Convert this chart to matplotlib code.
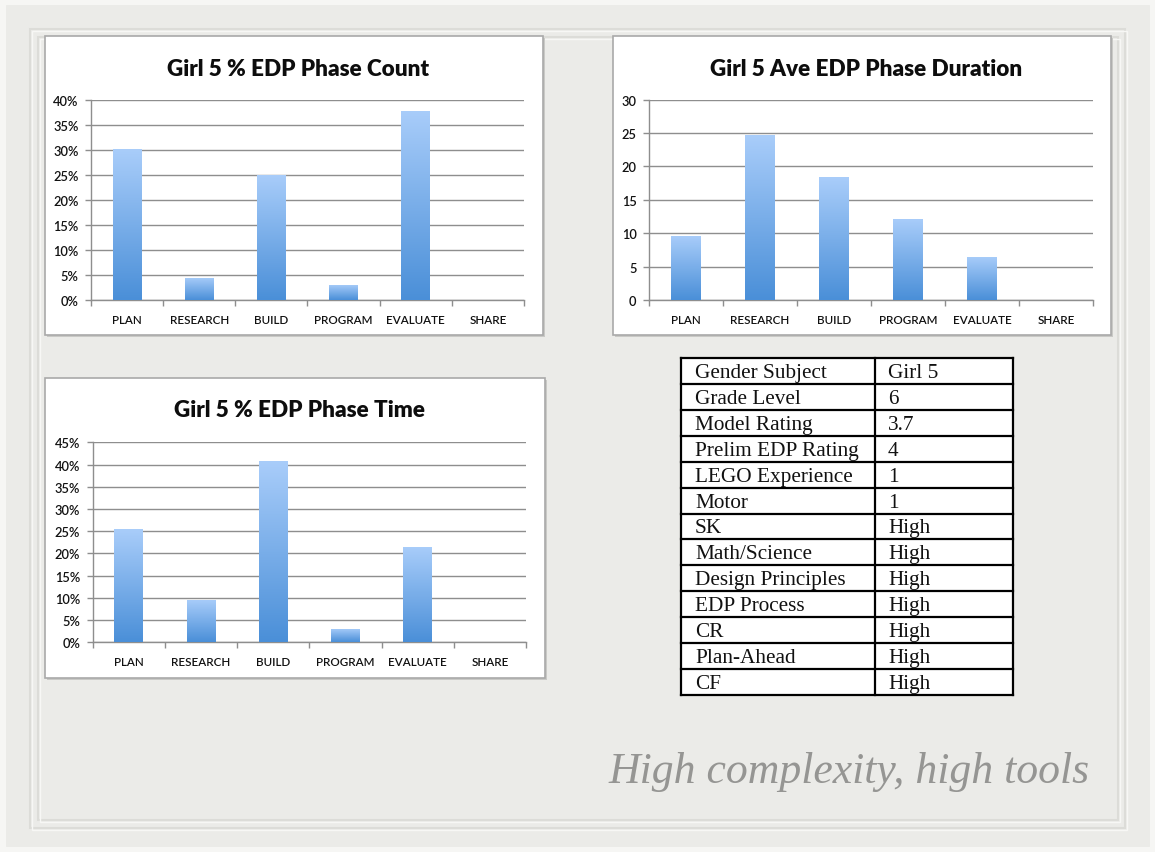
import numpy as np
import matplotlib
matplotlib.use("Agg")
import matplotlib.pyplot as plt
from matplotlib.patches import Rectangle
from matplotlib.colors import LinearSegmentedColormap
from matplotlib.ticker import FuncFormatter, FixedLocator

# ---- data ----
phases = ["PLAN", "RESEARCH", "BUILD", "PROGRAM", "EVALUATE", "SHARE"]
pct_phase_count = [30.1, 4.4, 25.0, 3.0, 37.8, 0.0]
ave_phase_duration = [9.6, 24.7, 18.4, 12.2, 6.5, 0.0]
pct_phase_time = [25.4, 9.5, 40.7, 3.1, 21.4, 0.0]

table_labels = ["Gender Subject", "Grade Level", "Model Rating", "Prelim EDP Rating",
                "LEGO Experience", "Motor", "SK", "Math/Science", "Design Principles",
                "EDP Process", "CR", "Plan-Ahead", "CF"]
table_values = ["Girl 5", "6", "3.7", "4", "1", "1", "High", "High", "High",
                "High", "High", "High", "High"]

caption = "High complexity, high tools"

# ---- figure ----
W, H = 1155, 853
fig = plt.figure(figsize=(W / 100, H / 100), dpi=100)
fig.patch.set_facecolor("#ebebe8")


def fx(x):
    return x / W


def fy(y):
    return 1 - y / H


def rect_px(x0, y0, x1, y1, **kw):
    r = Rectangle((fx(x0), fy(y1)), fx(x1) - fx(x0), fy(y0) - fy(y1),
                  transform=fig.transFigure, **kw)
    fig.add_artist(r)
    return r


# light page edge and embossed double frame
rect_px(0, 0, W, H, facecolor="none", edgecolor="#f6f6f4", lw=8, zorder=0)
for (a, b, c, d) in [(30, 30, 1125, 829), (38, 38, 1118, 821)]:
    rect_px(a, b, c, d, facecolor="none", edgecolor="#dcdcd8", lw=1.5, zorder=0)
    rect_px(a + 2, b + 2, c + 2, d + 2, facecolor="none", edgecolor="#f7f7f5", lw=1.0, zorder=0)

cmap = LinearSegmentedColormap.from_list("bar", ["#4a8fd8", "#a9cdfa"])
grad = np.linspace(0, 1, 256).reshape(-1, 1)

FONT = "Lato"


def chart(box, axpos, title, values, ymax, ystep, percent):
    bx0, by0, bx1, by1 = box
    # drop shadow + white panel
    rect_px(bx0 + 2, by0 + 2, bx1 + 2, by1 + 2, facecolor="#c9c9c6", edgecolor="none", zorder=1)
    rect_px(bx0, by0, bx1, by1, facecolor="white", edgecolor="#a9a9a9", lw=1.2, zorder=2)

    ax0, ay0, ax1, ay1 = axpos
    ax = fig.add_axes([fx(ax0), fy(ay1), fx(ax1) - fx(ax0), fy(ay0) - fy(ay1)])
    ax.set_zorder(3)
    ax.set_facecolor("none")

    x = np.arange(len(phases))
    bars = ax.bar(x, values, width=0.4, color="none", zorder=3)
    for b in bars:
        h = b.get_height()
        if h <= 0:
            continue
        x0 = b.get_x()
        im = ax.imshow(grad, cmap=cmap, origin="lower", aspect="auto",
                       extent=[x0, x0 + b.get_width(), 0, h], zorder=3)
        im.set_clip_path(b)

    ax.set_xlim(-0.5, len(phases) - 0.5)
    ax.set_ylim(0, ymax)
    ticks = np.arange(0, ymax + ystep / 2, ystep)
    ax.set_yticks(ticks)
    if percent:
        ax.yaxis.set_major_formatter(FuncFormatter(lambda v, p: f"{v:.0f}%"))
    else:
        ax.yaxis.set_major_formatter(FuncFormatter(lambda v, p: f"{v:.0f}"))
    ax.grid(axis="y", color="#8e8e8e", lw=1.0, zorder=0)
    ax.set_axisbelow(True)

    ax.set_xticks(x)
    ax.set_xticklabels(phases)
    ax.xaxis.set_minor_locator(FixedLocator(np.arange(-0.5, len(phases), 1.0)))
    ax.tick_params(axis="x", which="major", length=0, pad=10, labelsize=8.4,
                   labelcolor="#111111")
    ax.tick_params(axis="x", which="minor", length=4, color="#8e8e8e", width=1)
    ax.tick_params(axis="y", length=4, color="#8e8e8e", width=1, pad=5,
                   labelsize=9.3, labelcolor="#111111")
    for lab in ax.get_xticklabels() + ax.get_yticklabels():
        lab.set_family(FONT)
        lab.set_fontweight("semibold")

    for s in ["top", "right"]:
        ax.spines[s].set_visible(False)
    ax.spines["left"].set_color("#8e8e8e")
    ax.spines["bottom"].set_color("#8e8e8e")
    ax.spines["left"].set_linewidth(1.0)
    ax.spines["bottom"].set_linewidth(1.0)

    fig.text(fx((bx0 + bx1) / 2 + 4), fy(by0 + 32), title, ha="center", va="center",
             fontsize=16.2, fontweight="heavy", family=FONT, color="#0d0d0d", zorder=4)
    return ax


chart((45, 37, 543, 336), (91, 100.7, 524, 301), "Girl 5 % EDP Phase Count",
      pct_phase_count, 40, 5, True)
chart((613, 37, 1111, 336), (649, 100.7, 1093, 301), "Girl 5 Ave EDP Phase Duration",
      ave_phase_duration, 30, 5, False)
chart((45, 379, 545, 679), (92.7, 443.3, 526, 643.3), "Girl 5 % EDP Phase Time",
      pct_phase_time, 45, 5, True)

# ---- profile table ----
tx0, tx1, tdiv = 681, 1013, 875
ty0, ty1 = 359, 696
rh = (ty1 - ty0) / len(table_labels)
rect_px(tx0, ty0, tx1, ty1, facecolor="white", edgecolor="none", zorder=2)
for i, (lab, val) in enumerate(zip(table_labels, table_values)):
    yc = ty0 + rh * (i + 0.5) + 1.5
    fig.text(fx(tx0 + 14), fy(yc), lab, ha="left", va="center", fontsize=15.3,
             family="Liberation Serif", color="#111111", zorder=4)
    fig.text(fx(tdiv + 13), fy(yc), val, ha="left", va="center", fontsize=15.3,
             family="Liberation Serif", color="#111111", zorder=4)
for i in range(len(table_labels) + 1):
    y = ty0 + rh * i
    fig.add_artist(plt.Line2D([fx(tx0), fx(tx1)], [fy(y), fy(y)], transform=fig.transFigure,
                              color="black", lw=1.6, zorder=5))
for x in (tx0, tdiv, tx1):
    fig.add_artist(plt.Line2D([fx(x), fx(x)], [fy(ty0), fy(ty1)], transform=fig.transFigure,
                              color="black", lw=1.6, zorder=5))

# ---- caption ----
fig.text(fx(1090), fy(772), caption, ha="right", va="center", fontsize=31.5,
         style="italic", family="Liberation Serif", color="#959593", zorder=4)

fig.savefig("out.png", dpi=100, facecolor=fig.get_facecolor())
